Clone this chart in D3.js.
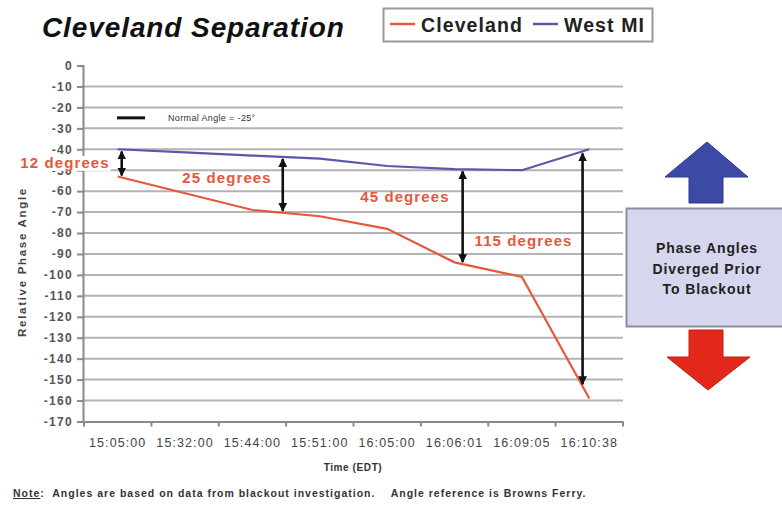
<!DOCTYPE html>
<html>
<head>
<meta charset="utf-8">
<script src="https://cdn.jsdelivr.net/npm/d3@7/dist/d3.min.js"></script>
<style>
  html, body { margin: 0; padding: 0; background: #fff; }
  svg { display: block; font-family: "Liberation Sans", Arial, sans-serif; }
</style>
</head>
<body>
<svg id="chart" width="782" height="506"></svg>
<script>
// Sample times (EDT) on the category axis
const times = ["15:05:00", "15:32:00", "15:44:00", "15:51:00", "16:05:00", "16:06:01", "16:09:05", "16:10:38"];

// Relative phase angle (degrees), referenced to Browns Ferry
const cleveland = [-53, -61, -69, -72, -78, -94, -101, -159];
const westMI    = [-40, -41.5, -43, -44.5, -48, -49.5, -50, -40];

// Y axis ticks
const yTicks = d3.range(0, -171, -10);

// Separation call-outs: where each arrow sits (fractional sample index) and its text
const gapAt     = [0.06, 2.45, 5.12, 6.9];
const gapLabels = ["12 degrees", "25 degrees", "45 degrees", "115 degrees"];

const normalAngleText = "Normal Angle = -25\u00b0";

const RED = "#e8573a", BLUE = "#5858ae";

const svg = d3.select("#chart");

const plot = { left: 83, right: 623, top: 65.5, bottom: 421.5 };

const x = d3.scaleBand().domain(times).range([plot.left + 1, plot.right]).padding(0);
const y = d3.scaleLinear().domain([-170, 0]).range([plot.bottom, plot.top]);
const cx = i => x(times[0]) + x.bandwidth() / 2 + i * x.step();

// Gridlines
svg.append("g")
  .selectAll("line")
  .data(yTicks.filter(t => t < 0 && t > -170))
  .join("line")
  .attr("x1", plot.left).attr("x2", plot.right)
  .attr("y1", d => y(d)).attr("y2", d => y(d))
  .attr("stroke", "#b3b3b3").attr("stroke-width", 2);

// Y axis
const yAxis = svg.append("g")
  .attr("transform", `translate(${plot.left},0)`)
  .call(d3.axisLeft(y).tickValues(yTicks).tickSize(6).tickPadding(4).tickFormat(d => String(d)));
yAxis.select(".domain").attr("stroke", "#8a8a8a").attr("stroke-width", 2);
yAxis.selectAll(".tick line").attr("stroke", "#8a8a8a").attr("stroke-width", 2);
yAxis.selectAll(".tick text")
  .attr("fill", "#555").attr("font-size", 12).attr("font-weight", "bold")
  .attr("letter-spacing", 1.3)
  .attr("font-family", "'Liberation Sans', Arial, sans-serif");

// X axis
const xAxis = svg.append("g")
  .attr("transform", `translate(0,${plot.bottom})`)
  .call(d3.axisBottom(x).tickSize(0).tickPadding(17));
xAxis.select(".domain").attr("stroke", "#8a8a8a").attr("stroke-width", 2);
xAxis.selectAll(".tick text")
  .attr("fill", "#444").attr("font-size", 12.5)
  .attr("letter-spacing", 1.1)
  .attr("font-family", "'Liberation Sans', Arial, sans-serif");
// tick marks on the band boundaries
svg.append("g")
  .selectAll("line")
  .data(d3.range(times.length + 1))
  .join("line")
  .attr("x1", i => plot.left + 1 + i * x.step()).attr("x2", i => plot.left + 1 + i * x.step())
  .attr("y1", plot.bottom).attr("y2", plot.bottom + 5)
  .attr("stroke", "#8a8a8a").attr("stroke-width", 2);

// Axis titles
svg.append("text")
  .attr("x", (plot.left + plot.right) / 2).attr("y", 471)
  .attr("text-anchor", "middle").attr("font-size", 10).attr("font-weight", "bold")
  .attr("letter-spacing", 0.6).attr("fill", "#333")
  .text("Time (EDT)");

svg.append("text")
  .attr("transform", "translate(26,262) rotate(-90)")
  .attr("text-anchor", "middle").attr("font-size", 11.5).attr("font-weight", "bold")
  .attr("letter-spacing", 1.7).attr("fill", "#444")
  .text("Relative Phase Angle");

// Series lines
const line = d3.line().x((d, i) => cx(i)).y(d => y(d));
svg.append("path").datum(westMI).attr("d", line)
  .attr("fill", "none").attr("stroke", BLUE).attr("stroke-width", 2.2);
svg.append("path").datum(cleveland).attr("d", line)
  .attr("fill", "none").attr("stroke", RED).attr("stroke-width", 2.2);

// Normal angle key
svg.append("line").attr("x1", 117).attr("x2", 145).attr("y1", y(-25)).attr("y2", y(-25))
  .attr("stroke", "#111").attr("stroke-width", 3);
svg.append("text").attr("x", 168).attr("y", y(-25) + 3.5)
  .attr("font-size", 9).attr("fill", "#333").attr("letter-spacing", 0.35)
  .text(normalAngleText);

// Separation arrows, ends taken from the two series at that instant
const interp = (arr, t) => {
  const i = Math.min(Math.floor(t), arr.length - 2);
  const f = t - i;
  return arr[i] + (arr[i + 1] - arr[i]) * f;
};
const defs = svg.append("defs");
defs.append("marker").attr("id", "head")
  .attr("viewBox", "0 0 10 10").attr("refX", 9).attr("refY", 5)
  .attr("markerWidth", 3.4).attr("markerHeight", 3.4).attr("orient", "auto-start-reverse")
  .append("path").attr("d", "M0,0 L10,5 L0,10 Z").attr("fill", "#111");

// label placement relative to each arrow: [dx, y value, anchor, white backing]
const labelLayout = [[-12, -46.5, "end", true], [-11, -53.7, "end", false], [-13, -62.7, "end", false], [-10, -84, "end", false]];

gapAt.forEach((t, k) => {
  const px = cx(t);
  const top = y(interp(westMI, t)) + 2;
  const bot = y(interp(cleveland, t)) - 2;
  svg.append("line")
    .attr("x1", px).attr("x2", px).attr("y1", top).attr("y2", bot)
    .attr("stroke", "#111").attr("stroke-width", 2.6)
    .attr("marker-start", "url(#head)").attr("marker-end", "url(#head)");
  const [dx, vy, anchor, backed] = labelLayout[k];
  const g = svg.append("g");
  const txt = g.append("text")
    .attr("x", px + dx).attr("y", y(vy) + 5)
    .attr("text-anchor", anchor)
    .attr("font-size", 15).attr("font-weight", "bold").attr("letter-spacing", 1.1)
    .attr("fill", RED)
    .text(gapLabels[k]);
  if (backed) {
    const bb = txt.node().getBBox();
    g.insert("rect", "text")
      .attr("x", bb.x - 1).attr("y", bb.y + 2).attr("width", bb.width + 2).attr("height", bb.height - 2)
      .attr("fill", "#fff");
  }
});

// Title
svg.append("text").attr("x", 42).attr("y", 37)
  .attr("font-size", 28).attr("font-weight", "bold").attr("font-style", "italic")
  .attr("letter-spacing", 0.9).attr("fill", "#111")
  .text("Cleveland Separation");

// Legend
const lg = svg.append("g");
lg.append("rect").attr("x", 383.5).attr("y", 8.5).attr("width", 269).attr("height", 33)
  .attr("fill", "#fff").attr("stroke", "#999").attr("stroke-width", 2);
const legendItems = [{ name: "Cleveland", color: RED, x: 390 }, { name: "West MI", color: BLUE, x: 533 }];
legendItems.forEach(d => {
  lg.append("line").attr("x1", d.x).attr("x2", d.x + 25).attr("y1", 24).attr("y2", 24)
    .attr("stroke", d.color).attr("stroke-width", 2.5);
  lg.append("text").attr("x", d.x + 31).attr("y", 31.5)
    .attr("font-size", 19.5).attr("font-weight", "bold").attr("letter-spacing", 1.1)
    .attr("fill", "#222").text(d.name);
});

// Side panel: arrows and caption box
svg.append("path")
  .attr("d", "M707,142 L748,177 L723,177 L723,203 L689,203 L689,177 L665,177 Z")
  .attr("fill", "#3c4aa6").attr("stroke", "#2c3890").attr("stroke-width", 1);
svg.append("path")
  .attr("d", "M689,330 L723,330 L723,357 L750,357 L708,390 L667,357 L689,357 Z")
  .attr("fill", "#e2281a").attr("stroke", "#c01e12").attr("stroke-width", 1);
svg.append("rect").attr("x", 626.5).attr("y", 208.5).attr("width", 160).attr("height", 118)
  .attr("fill", "#d6d6ee").attr("stroke", "#8e8e9e").attr("stroke-width", 2);
["Phase Angles", "Diverged Prior", "To Blackout"].forEach((s, i) => {
  svg.append("text").attr("x", 707).attr("y", 253 + i * 20.5)
    .attr("text-anchor", "middle").attr("font-size", 14).attr("font-weight", "bold")
    .attr("letter-spacing", 0.9).attr("fill", "#222").text(s);
});

// Footnote
const note = svg.append("text").attr("x", 13).attr("y", 497)
  .attr("font-size", 10.5).attr("font-weight", "bold").attr("fill", "#333").attr("letter-spacing", 1.0);
note.append("tspan").attr("text-decoration", "underline").text("Note");
note.append("tspan").attr("xml:space", "preserve")
  .text(":  Angles are based on data from blackout investigation.    Angle reference is Browns Ferry.");
</script>
</body>
</html>
